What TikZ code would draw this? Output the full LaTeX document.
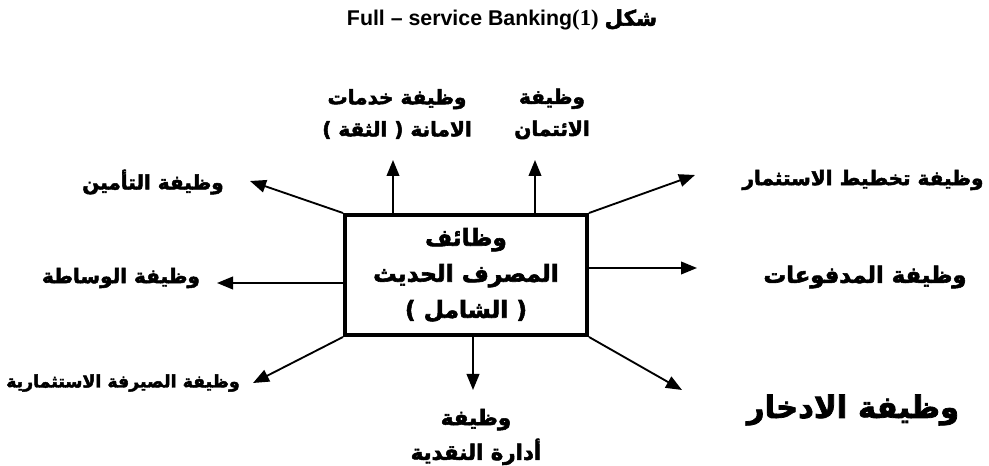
\documentclass[tikz,border=0pt]{standalone}
\usepackage{fontspec}
\usetikzlibrary{arrows.meta}
\setmainfont{Liberation Sans}
\newfontfamily\arabicfont[Script=Arabic, FakeBold=2.5]{DejaVu Sans Bold}
\newfontfamily\serifnum{Liberation Serif Bold}
\TeXXeTstate=1
\newcommand{\rtl}[1]{\beginR #1\endR}

\begin{document}
\begin{tikzpicture}[x=0.75pt,y=-0.75pt,
    func/.style={font=\arabicfont\fontsize{15}{24}\selectfont, align=center, inner sep=0pt},
    arr/.style={-{Triangle[length=12pt,width=9.5pt]}, line width=1.4pt}]
                        \useasboundingbox (0,0) rectangle (989,466);
                        % Title
                        \node[font=\bfseries\fontsize{16}{19}\selectfont, inner sep=0pt] (title) at (502,20) {Full – service Banking{\serifnum\fontsize{17}{19}\selectfont(1)} {\arabicfont\rtl{شكل}}};

                        % Nodes
                        \node[func, font=\arabicfont\fontsize{17.5}{27}\selectfont, draw, line width=3pt, minimum width=181.5pt, minimum height=90pt] (bank) at (466,275) {\rtl{وظائف}\\\rtl{المصرف الحديث}\\\rtl{( الشامل )}};
                        \node[func] (trust) at (397,114) {\rtl{وظيفة خدمات}\\\rtl{الامانة ( الثقة )}};
                        \node[func] (credit) at (552,114) {\rtl{وظيفة}\\\rtl{الائتمان}};
                        \node[func] (insurance) at (153,182) {\rtl{وظيفة التأمين}};
                        \node[func] (brokerage) at (121,278) {\rtl{وظيفة الوساطة}};
                        \node[func, font=\arabicfont\fontsize{13}{24}\selectfont] (invbank) at (123,383) {\rtl{وظيفة الصيرفة الاستثمارية}};
                        \node[func] (invplan) at (863,180) {\rtl{وظيفة تخطيط الاستثمار}};
                        \node[func, font=\arabicfont\fontsize{17}{24}\selectfont] (payments) at (865,277) {\rtl{وظيفة المدفوعات}};
                        \node[func, font=\arabicfont\fontsize{23}{24}\selectfont] (saving) at (853,410) {\rtl{وظيفة الادخار}};
                        \node[func, font=\arabicfont\fontsize{16}{26}\selectfont] (cash) at (476,437) {\rtl{وظيفة}\\\rtl{أدارة النقدية}};

                        % Arrow tips
                        \coordinate (upA) at (393,160);
                        \coordinate (upB) at (535,160);
                        \coordinate (tipTL) at (250,181);
                        \coordinate (tipL) at (217,283);
                        \coordinate (tipBL) at (253,383);
                        \coordinate (tipTR) at (695,175);
                        \coordinate (tipR) at (697,268);
                        \coordinate (tipBR) at (682,390);
                        \coordinate (tipD) at (473,390);

                        % Edges
                        \draw[arr] (bank.north -| upA) -- (upA);
                        \draw[arr] (bank.north -| upB) -- (upB);
                        \draw[arr] (bank.north west) -- (tipTL);
                        \draw[arr] (bank.west |- tipL) -- (tipL);
                        \draw[arr] (bank.south west) -- (tipBL);
                        \draw[arr] (bank.north east) -- (tipTR);
                        \draw[arr] (bank.east |- tipR) -- (tipR);
                        \draw[arr] (bank.south east) -- (tipBR);
                        \draw[arr] (bank.south -| tipD) -- (tipD);
                    \end{tikzpicture}
\end{document}
